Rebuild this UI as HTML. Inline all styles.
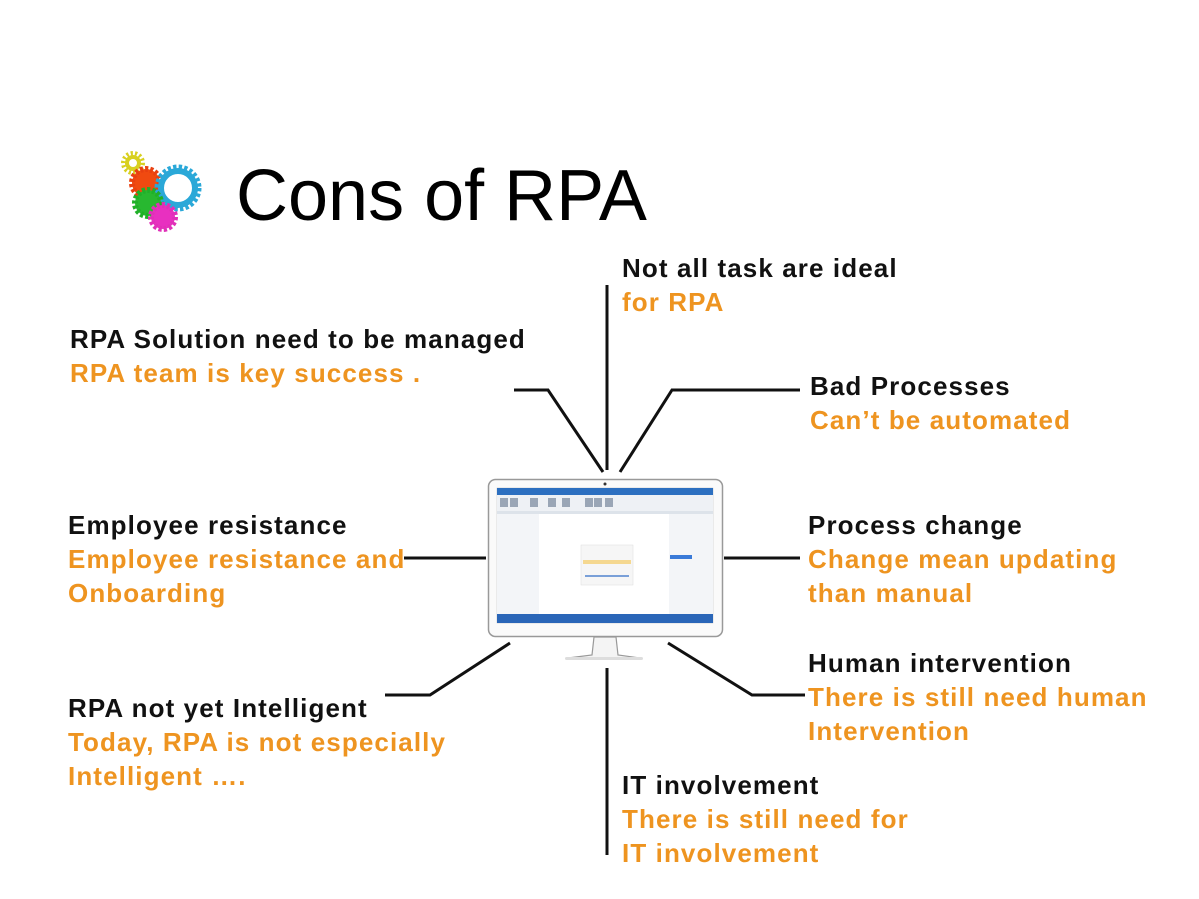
<!DOCTYPE html>
<html><head><meta charset="utf-8"><style>
html,body{margin:0;padding:0;background:#fff;}
svg{display:block;}
text{font-family:"Liberation Sans",Arial,sans-serif;font-weight:bold;font-size:26px;letter-spacing:1.1px;}
.b{fill:#111;} .o{fill:#EE9420;}
</style></head><body>
<svg width="1199" height="899" viewBox="0 0 1199 899" xmlns="http://www.w3.org/2000/svg">
<rect width="1199" height="899" fill="#fff"/>
<!-- gears -->
<g>
<circle cx="133" cy="163" r="9" fill="none" stroke="#d8d020" stroke-width="6" stroke-dasharray="2 2"/>
<circle cx="133" cy="163" r="6" fill="none" stroke="#d8d020" stroke-width="4"/>
<circle cx="146" cy="183" r="14" fill="#f04a10" stroke="#e84010" stroke-width="6" stroke-dasharray="3 2"/>
<circle cx="178" cy="188" r="19" fill="none" stroke="#2aa8d8" stroke-width="9" stroke-dasharray="3 2"/>
<circle cx="178" cy="188" r="17" fill="none" stroke="#2aa8d8" stroke-width="6"/>
<circle cx="148" cy="203" r="13" fill="#28b830" stroke="#20b028" stroke-width="6" stroke-dasharray="3 2"/>
<circle cx="163" cy="217" r="12" fill="#e830c0" stroke="#e030b8" stroke-width="6" stroke-dasharray="3 2"/>
</g>
<text x="236" y="220" style="font-size:72px;font-weight:normal;letter-spacing:0" fill="#000">Cons of RPA</text>

<!-- connectors -->
<g stroke="#111" stroke-width="3" fill="none">
<line x1="607" y1="285" x2="607" y2="470"/>
<polyline points="514,390 548,390 603,472"/>
<polyline points="800,390 672,390 620,472"/>
<line x1="404" y1="558" x2="486" y2="558"/>
<line x1="724" y1="558" x2="800" y2="558"/>
<polyline points="385,695 430,695 510,643"/>
<polyline points="668,643 752,695 805,695"/>
<line x1="607" y1="668" x2="607" y2="855"/>
</g>

<!-- monitor -->
<rect x="488.5" y="479.5" width="234" height="157" rx="7" fill="#fafafa" stroke="#999" stroke-width="1.5"/>
<circle cx="605" cy="484" r="1.5" fill="#333"/>
<rect x="497" y="488" width="216" height="135" fill="#fff" stroke="#bbb" stroke-width="0.5"/>
<rect x="497" y="488" width="216" height="7" fill="#2c6fc0"/>
<rect x="497" y="495" width="216" height="16" fill="#eef1f5"/>
<g fill="#9aa6b6"><rect x="500" y="498" width="8" height="9"/><rect x="510" y="498" width="8" height="9"/><rect x="530" y="498" width="8" height="9"/><rect x="548" y="498" width="8" height="9"/><rect x="562" y="498" width="8" height="9"/><rect x="585" y="498" width="8" height="9"/><rect x="594" y="498" width="8" height="9"/><rect x="605" y="498" width="8" height="9"/></g>
<rect x="497" y="511" width="216" height="3" fill="#dde3ea"/>
<rect x="497" y="514" width="42" height="100" fill="#f3f5f8"/>
<rect x="669" y="514" width="44" height="100" fill="#f3f5f8"/>
<rect x="581" y="545" width="52" height="40" fill="#f6f6f6" stroke="#ddd" stroke-width="0.5"/>
<rect x="583" y="560" width="48" height="4" fill="#f5d890"/>
<rect x="585" y="575" width="44" height="2" fill="#7aa0d8"/>
<rect x="670" y="555" width="22" height="4" fill="#3a7ad8"/>
<rect x="497" y="614" width="216" height="9" fill="#2a66b8"/>
<path d="M594 637 L592 655 L568 658 L640 658 L618 655 L616 637 Z" fill="#f4f4f4" stroke="#999" stroke-width="1.2"/>
<rect x="565" y="657" width="78" height="3" rx="1.5" fill="#ddd"/>

<!-- labels -->
<text x="622" y="277" class="b">Not all task are ideal</text>
<text x="622" y="311" class="o">for RPA</text>
<text x="70" y="348" class="b">RPA Solution need to be managed</text>
<text x="70" y="382" class="o">RPA team is key success .</text>
<text x="810" y="395" class="b">Bad Processes</text>
<text x="810" y="429" class="o">Can’t be automated</text>
<text x="68" y="534" class="b">Employee resistance</text>
<text x="68" y="568" class="o">Employee resistance and</text>
<text x="68" y="602" class="o">Onboarding</text>
<text x="808" y="534" class="b">Process change</text>
<text x="808" y="568" class="o">Change mean updating</text>
<text x="808" y="602" class="o">than manual</text>
<text x="808" y="672" class="b">Human intervention</text>
<text x="808" y="706" class="o">There is still need human</text>
<text x="808" y="740" class="o">Intervention</text>
<text x="68" y="717" class="b">RPA not yet Intelligent</text>
<text x="68" y="751" class="o">Today, RPA is not especially</text>
<text x="68" y="785" class="o">Intelligent ….</text>
<text x="622" y="794" class="b">IT involvement</text>
<text x="622" y="828" class="o">There is still need for</text>
<text x="622" y="862" class="o">IT involvement</text>
</svg>
</body></html>
